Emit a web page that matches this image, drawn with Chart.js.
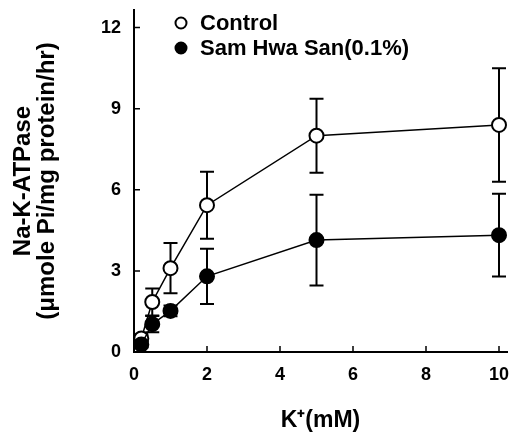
<!DOCTYPE html>
<html>
<head>
<meta charset="utf-8">
<script src="https://cdn.jsdelivr.net/npm/chart.js@4"></script>
<style>
  html, body { margin: 0; padding: 0; background: #fff; }
  canvas { display: block; }
</style>
</head>
<body>
<canvas id="chart" width="516" height="437"></canvas>
<script>
// K+ concentration (mM) and Na-K-ATPase activity
const kConc = [0.2, 0.5, 1, 2, 5, 10];
const controlMean = [0.5, 1.85, 3.1, 5.43, 8.0, 8.4];
const controlErr = [0.15, 0.5, 0.93, 1.24, 1.37, 2.1];
const samMean = [0.28, 1.03, 1.52, 2.8, 4.14, 4.32];
const samErr = [0.1, 0.3, 0.2, 1.02, 1.68, 1.53];
const xTicks = [0, 2, 4, 6, 8, 10];
const yTicks = [0, 3, 6, 9, 12];

const FONT = "'Liberation Sans', Arial, sans-serif";
const X_PX_PER_UNIT = 36.5; // spacing of the x ticks in the original

const toPoints = (xs, ys) => xs.map((x, i) => ({ x, y: ys[i] }));

// error bars go under the markers so the open circles hide the stem
const errorBars = {
  id: "errorBars",
  beforeDatasetsDraw(chart) {
    const { ctx, scales: { x, y } } = chart;
    ctx.save();
    ctx.strokeStyle = "#000";
    ctx.lineWidth = 2;
    chart.data.datasets.forEach((ds) => {
      ds.data.forEach((p, i) => {
        const e = ds.err[i];
        const px = x.getPixelForValue(p.x);
        const top = y.getPixelForValue(p.y + e);
        const bot = y.getPixelForValue(Math.max(p.y - e, 0));
        ctx.beginPath();
        ctx.moveTo(px, top); ctx.lineTo(px, bot);
        ctx.moveTo(px - 7, top); ctx.lineTo(px + 7, top);
        if (p.y - e > 0) { ctx.moveTo(px - 7, bot); ctx.lineTo(px + 7, bot); }
        ctx.stroke();
      });
    });
    ctx.restore();
  },
};

// tick marks pointing into the plot
const inwardTicks = {
  id: "inwardTicks",
  afterDraw(chart) {
    const { ctx, chartArea: a, scales: { x, y } } = chart;
    ctx.save();
    ctx.strokeStyle = "#000";
    ctx.lineWidth = 1.5;
    ctx.beginPath();
    for (const v of xTicks) {
      if (v === 0) continue;
      const px = x.getPixelForValue(v);
      ctx.moveTo(px, a.bottom); ctx.lineTo(px, a.bottom - 6);
    }
    for (const v of yTicks) {
      if (v === 0) continue;
      const py = y.getPixelForValue(v);
      ctx.moveTo(a.left, py); ctx.lineTo(a.left + 6, py);
    }
    ctx.stroke();
    ctx.restore();
  },
};

const insideLegend = {
  id: "insideLegend",
  afterDraw(chart) {
    const { ctx, chartArea: a } = chart;
    ctx.save();
    ctx.font = `bold 22px ${FONT}`;
    ctx.textBaseline = "middle";
    chart.data.datasets.forEach((ds, i) => {
      const cx = a.left + 47;
      const cy = a.top + 13 + i * 25;
      ctx.beginPath();
      ctx.arc(cx, cy, 5.5, 0, Math.PI * 2);
      ctx.fillStyle = ds.pointBackgroundColor;
      ctx.fill();
      ctx.lineWidth = 2;
      ctx.strokeStyle = "#000";
      ctx.stroke();
      ctx.fillStyle = "#000";
      ctx.fillText(ds.label, cx + 19, cy + 1);
    });
    ctx.restore();
  },
};

const zeroPad = (s) => { s.paddingLeft = 0; s.paddingRight = 0; s.paddingTop = 0; s.paddingBottom = 0; };

const chart = new Chart(document.getElementById("chart"), {
  type: "scatter",
  data: {
    datasets: [
      {
        label: "Control",
        data: toPoints(kConc, controlMean),
        err: controlErr,
        showLine: true,
        borderColor: "#000",
        borderWidth: 1.5,
        pointRadius: 7,
        pointBorderWidth: 2,
        pointBorderColor: "#000",
        pointBackgroundColor: "#fff",
        order: 2,
      },
      {
        label: "Sam Hwa San(0.1%)",
        data: toPoints(kConc, samMean),
        err: samErr,
        showLine: true,
        borderColor: "#000",
        borderWidth: 1.5,
        pointRadius: 7,
        pointBorderWidth: 2,
        pointBorderColor: "#000",
        pointBackgroundColor: "#000",
        order: 1,
      },
    ],
  },
  options: {
    responsive: false,
    animation: false,
    layout: { padding: { top: 10, right: 0, left: 0, bottom: 0 } },
    plugins: { legend: { display: false }, tooltip: { enabled: false } },
    scales: {
      x: {
        type: "linear",
        min: 0,
        max: 10.45,
        afterBuildTicks: (s) => { s.ticks = xTicks.map(v => ({ value: v })); },
        afterFit: (s) => { s.height = 85; zeroPad(s); },
        grid: { display: true, drawOnChartArea: false, drawTicks: false },
        border: { display: true, color: "#000", width: 2 },
        ticks: {
          color: "#000", padding: 12, maxRotation: 0,
          font: { family: FONT, size: 18, weight: "bold" },
        },
        title: {
          display: true, text: "K⁺(mM)", color: "#000",
          padding: { top: 0, bottom: 3 },
          font: { family: FONT, size: 23, weight: "bold", lineHeight: 1.2 },
        },
      },
      y: {
        type: "linear",
        min: 0,
        max: 12.65,
        afterBuildTicks: (s) => { s.ticks = yTicks.map(v => ({ value: v })); },
        afterFit: (s) => { s.width = 134; zeroPad(s); },
        grid: { display: true, drawOnChartArea: false, drawTicks: false },
        border: { display: true, color: "#000", width: 2 },
        ticks: {
          color: "#000", padding: 13,
          font: { family: FONT, size: 18, weight: "bold" },
        },
        title: {
          display: true,
          text: ["Na-K-ATPase", "(μmole Pi/mg protein/hr)"],
          color: "#000",
          padding: { top: 11, bottom: 0 },
          font: { family: FONT, size: 24, weight: "bold", lineHeight: 1.0 },
        },
      },
    },
  },
  plugins: [errorBars, inwardTicks, insideLegend],
});

// keep the original tick spacing whatever width the layout leaves for the plot
const area = chart.chartArea;
chart.options.scales.x.max = (area.right - area.left) / X_PX_PER_UNIT;
chart.update();
</script>
</body>
</html>
